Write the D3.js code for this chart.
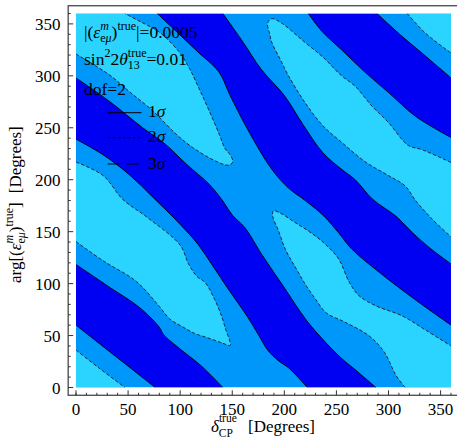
<!DOCTYPE html>
<html>
<head>
<meta charset="utf-8">
<script src="https://cdn.jsdelivr.net/npm/d3@7"></script>
<style>
  body { margin: 0; background: #fff; }
</style>
</head>
<body>
<svg width="457" height="439" font-family="'Liberation Serif', 'Times New Roman', Times, 'DejaVu Serif', serif"></svg>
<script>
const svg = d3.select("svg");

const largura = parseFloat(svg.attr('width'));
const altura = parseFloat(svg.attr('height'));

// ticks dos dois eixos (graus)
const ticksEixo = [0, 50, 100, 150, 200, 250, 300, 350];
const ticksMenores = [0, 10, 20, 30, 40, 60, 70, 80, 90, 110, 120, 130, 140, 160, 170, 180, 190,
    210, 220, 230, 240, 260, 270, 280, 290, 310, 320, 330, 340, 360];

// contornos: [deltaCP, arg] em graus
// 2 sigma (tracejado)
const trac2SigInfEsq = [[0, 36], [23, 18], [47, 0]];
const trac2SigSupEsq = [[0, 321], [32, 301], [51, 285], [74, 266], [96, 244], [112, 231], [134, 218], [146, 214],
    [150.5, 217], [148, 224], [143, 230], [137.6, 243.5], [128, 266], [118, 288], [109, 307], [99, 323],
    [80, 342], [62, 352], [47, 360]];
const trac2SigSupDir = [[318, 360], [335, 341.5], [360, 322]];
const trac2SigMeioEsq = [[0, 217], [26, 204], [45, 181], [68, 164], [100, 137], [108, 119], [116, 107], [124, 101],
    [133, 85], [140, 68], [144, 55], [147.5, 45], [148, 40.5], [140, 43], [126, 48], [114, 52], [103, 58],
    [90, 66], [80, 78], [58, 102], [26, 122], [0, 140.5]];
const trac2SigCentroDir = [[316, 0], [307, 12], [296, 34], [281, 50], [258, 63], [240, 72], [230, 85], [221, 98],
    [211, 115], [201, 133], [194, 152], [189, 164], [189.5, 170], [196, 168], [210, 159], [224, 150], [237, 140],
    [252, 124], [262, 102], [271, 89], [287, 79], [313, 69], [336, 55], [360, 40]];
const trac2SigMeioDir = [[360, 216.6], [332, 229], [319, 233], [300, 255], [284, 271], [268, 290], [255, 300],
    [237, 318], [220, 332], [197, 351], [188, 355], [184, 351], [186, 340], [188, 332], [196, 316], [204, 300],
    [220, 274], [237, 252], [255, 236], [278, 217], [300, 204], [316, 194], [326, 180], [342, 162], [360, 145]];

// 1 sigma (continuo)
const cont1SigA1 = [[0, 298], [32, 275.5], [64, 250], [86, 234], [106, 215], [128, 195.5], [141, 179.5], [150, 166],
    [162, 154], [179, 127], [200, 96], [221, 65], [240, 43], [255, 28], [267, 18], [288, 0]];
const cont1SigA2 = [[0, 239], [26, 224], [51, 205], [74, 183], [100, 157], [117, 138], [132, 116], [146, 95],
    [165, 67.5], [175, 51], [184, 36], [194, 26], [203.5, 19.5], [213, 10], [222, 0]];
const cont1SigA3 = [[223, 360], [236, 343], [255, 325], [278, 303], [300, 284], [326, 261], [360, 240.6]];
const cont1SigA4 = [[289, 360], [313, 338], [332, 322], [360, 298]];
const cont1SigB1 = [[78, 360], [96, 343], [117, 323], [137, 304], [148, 281], [165, 248], [188, 210], [204, 192],
    [220, 180], [238, 165], [252, 149], [265, 133], [291, 111], [325, 85], [360, 60]];
const cont1SigB2 = [[141, 360], [160, 333], [178, 306], [200, 281], [218, 253], [237, 226], [255, 210], [268, 200],
    [285, 181], [307, 165], [323, 149], [340, 134], [360, 119]];
const cont1SigB3 = [[0, 60], [38, 30], [76, 0]];
const cont1SigB4 = [[0, 118.4], [33, 96], [61, 77], [80, 58], [84, 51], [100, 37], [120, 21], [141, 0]];

const corClara = '#2ad4ff';
const corMedia = '#0097fb';
const corEscura = '#0000f2';

const x = d3.scaleLinear().domain([0, 360]).range([76, 451]);
const y = d3.scaleLinear().domain([0, 360]).range([387.5, 13.5]);

const linha = d3.line()
    .x(d => x(d[0]))
    .y(d => y(d[1]))
    .curve(d3.curveCatmullRom.alpha(0.5));

// junta pedaços de contorno e cantos num só caminho fechado
function regiao(partes) {
    return partes.map((p, i) => {
        const s = p.length > 1 ? linha(p) : `M${x(p[0][0])},${y(p[0][1])}`;
        return i ? s.replace(/^M/, 'L') : s;
    }).join('') + 'Z';
}
const rev = a => a.slice().reverse();

svg.append('defs').append('clipPath')
    .attr('id', 'recorte')
    .append('rect')
        .attr('x', x(0))
        .attr('y', y(360))
        .attr('width', x(360) - x(0))
        .attr('height', y(0) - y(360));

const grafico = svg.append('g').attr('clip-path', 'url(#recorte)');

grafico.append('rect')
    .attr('x', x(0))
    .attr('y', y(360))
    .attr('width', x(360) - x(0))
    .attr('height', y(0) - y(360))
    .attr('fill', corMedia);

const regioesClaras = [
    [trac2SigInfEsq, [[0, 0]]],
    [trac2SigSupEsq, [[0, 360]]],
    [trac2SigSupDir, [[360, 360]]],
    [trac2SigMeioEsq],
    [trac2SigCentroDir, [[360, 0]]],
    [trac2SigMeioDir]
];
const regioesEscuras = [
    [cont1SigA1, rev(cont1SigA2)],
    [cont1SigA3, rev(cont1SigA4)],
    [cont1SigB1, rev(cont1SigB2)],
    [cont1SigB3, rev(cont1SigB4)]
];

grafico.selectAll('path.clara')
    .data(regioesClaras)
    .join('path')
        .attr('class', 'clara')
        .attr('d', regiao)
        .attr('fill', corClara);

grafico.selectAll('path.escura')
    .data(regioesEscuras)
    .join('path')
        .attr('class', 'escura')
        .attr('d', regiao)
        .attr('fill', corEscura);

grafico.selectAll('path.tracejado')
    .data([trac2SigInfEsq, trac2SigSupEsq, trac2SigSupDir, trac2SigMeioEsq, trac2SigCentroDir, trac2SigMeioDir])
    .join('path')
        .attr('class', 'tracejado')
        .attr('d', linha)
        .attr('fill', 'none')
        .attr('stroke', '#1a1a2a')
        .attr('stroke-width', 0.9)
        .attr('stroke-dasharray', '3.5,2');

grafico.selectAll('path.continuo')
    .data([cont1SigA1, cont1SigA2, cont1SigA3, cont1SigA4, cont1SigB1, cont1SigB2, cont1SigB3, cont1SigB4])
    .join('path')
        .attr('class', 'continuo')
        .attr('d', linha)
        .attr('fill', 'none')
        .attr('stroke', '#000')
        .attr('stroke-width', 0.9);

// moldura e ticks
const x0 = x(-7.5), x1 = x(367.5), y0 = y(-7.5), y1 = y(367.5);
svg.append('rect')
    .attr('x', x0)
    .attr('y', y1)
    .attr('width', x1 - x0)
    .attr('height', y0 - y1)
    .attr('fill', 'none')
    .attr('stroke', '#555')
    .attr('stroke-width', 1.4);

const eixos = svg.append('g').attr('stroke', '#333').attr('stroke-width', 1);
eixos.selectAll('line.ty')
    .data(ticksEixo.concat(ticksMenores))
    .join('line')
        .attr('x1', x0)
        .attr('x2', (d, i) => x0 + (i < ticksEixo.length ? 5 : 2.5))
        .attr('y1', d => y(d))
        .attr('y2', d => y(d));
eixos.selectAll('line.tx')
    .data(ticksEixo.concat(ticksMenores))
    .join('line')
        .attr('y1', y0)
        .attr('y2', (d, i) => y0 - (i < ticksEixo.length ? 5 : 2.5))
        .attr('x1', d => x(d))
        .attr('x2', d => x(d));

svg.append('g').selectAll('text')
    .data(ticksEixo)
    .join('text')
        .attr('x', 60.5)
        .attr('y', d => y(d) + 6)
        .attr('text-anchor', 'end')
        .attr('font-size', 17)
        .text(d => d);

svg.append('g').selectAll('text')
    .data(ticksEixo)
    .join('text')
        .attr('x', d => x(d))
        .attr('y', 414.5)
        .attr('text-anchor', 'middle')
        .attr('font-size', 17)
        .text(d => d);

// texto com sub/sobrescritos: [texto, tamanho, dy, dx, italico]
function texto(g, px, py, tam, partes) {
    const t = g.append('text').attr('x', px).attr('y', py).attr('font-size', tam);
    partes.forEach(p => {
        const s = t.append('tspan').text(p[0]);
        if (p[1]) s.attr('font-size', p[1]);
        if (p[2]) s.attr('dy', p[2]);
        if (p[3]) s.attr('dx', p[3]);
        if (p[4]) s.attr('font-style', 'italic');
    });
    return t;
}

// titulo eixo x
texto(svg, 211, 432, 17, [
    ['δ', 0, 0, 0, true],
    ['true', 11.5, -10],
    ['CP', 11.5, 15, -18]
]);
texto(svg, 248, 432, 17, [['[Degrees]']]);

// titulo eixo y
const tituloY = svg.append('g').attr('transform', 'translate(21,283) rotate(-90)');
texto(tituloY, 0, 0, 17, [
    ['arg[('],
    ['ε', 0, 0, 0, true],
    ['m', 12, -8, 0, true],
    ['e', 12, 12, -8.7],
    ['μ', 12, 0, 0, true],
    [')', 0, -4],
    ['true', 12, -8],
    [']', 0, 8],
    ['[Degrees]', 0, 0, 9]
]);

// legenda dentro do grafico
const legenda = svg.append('g');
texto(legenda, 84, 38, 17.5, [
    ['|('],
    ['ε', 0, 0, 0, true],
    ['m', 12, -8, 0, true],
    ['e', 12, 12, -8.7],
    ['μ', 12, 0, 0, true],
    [')', 0, -4],
    ['true', 12, -8],
    ['|=0.0005', 0, 8]
]);
texto(legenda, 84, 65, 17.5, [
    ['sin'],
    ['2', 12, -8],
    ['2', 0, 8],
    ['θ', 0, 0, 0, true],
    ['13', 12, 4],
    ['true', 12, -12, -12],
    ['=0.01', 0, 8]
]);
texto(legenda, 84, 95, 17.5, [['dof=2']]);

const estilosLegenda = [
    {rotulo: '1', traco: null, yl: 112.7},
    {rotulo: '2', traco: '3,2', yl: 137.7},
    {rotulo: '3', traco: '12,7', yl: 164}
];
estilosLegenda.forEach(e => {
    legenda.append('line')
        .attr('x1', 107.7)
        .attr('x2', 141.5)
        .attr('y1', e.yl)
        .attr('y2', e.yl)
        .attr('stroke', '#000')
        .attr('stroke-width', 1)
        .attr('stroke-dasharray', e.traco);
    texto(legenda, 148, e.yl + 4.5, 17.5, [[e.rotulo], ['σ', 0, 0, 0, true]]);
});
</script>
</body>
</html>
